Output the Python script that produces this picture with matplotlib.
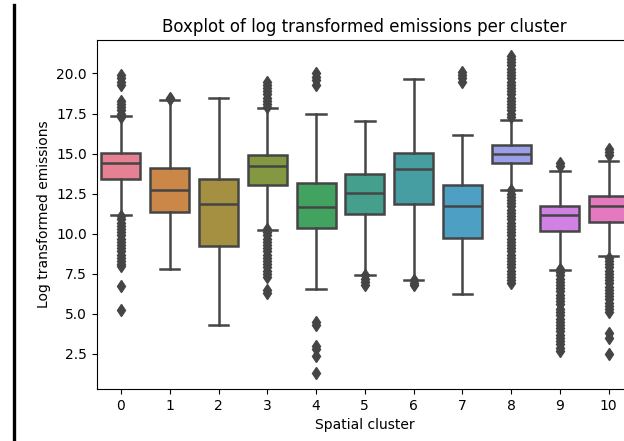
import matplotlib.pyplot as plt
import matplotlib as mpl
from matplotlib.lines import Line2D
import seaborn as sns

# Summary statistics per spatial cluster (log transformed emissions)
clusters = [0, 1, 2, 3, 4, 5, 6, 7, 8, 9, 10]
q1 = [13.44, 11.33, 9.23, 13.06, 10.33, 11.23, 11.83, 9.71, 14.41, 10.14, 10.73]
medians = [14.44, 12.75, 11.83, 14.25, 11.64, 12.54, 14.06, 11.75, 14.96, 11.17, 11.73]
q3 = [15.06, 14.12, 13.44, 14.90, 13.17, 13.71, 15.04, 13.04, 15.52, 11.73, 12.35]
whisker_low = [11.14, 7.81, 4.31, 10.21, 6.52, 7.43, 7.12, 6.21, 12.70, 7.73, 8.60]
whisker_high = [17.33, 18.33, 18.44, 17.85, 17.46, 17.02, 19.64, 16.14, 17.12, 13.92, 14.54]

# Outliers beyond the whiskers
fliers = [
    [19.9, 19.7, 19.5, 19.3, 18.3, 18.1, 17.9, 17.7, 17.5, 17.3,
     11.1, 10.9, 10.7, 10.5, 10.3, 10.1, 9.9, 9.7, 9.5, 9.3, 9.1, 8.9,
     8.7, 8.5, 8.3, 8.1, 8.0, 6.75, 5.25],
    [18.5, 18.4],
    [],
    [19.5, 19.3, 19.1, 18.9, 18.7, 18.5, 18.3, 18.1, 17.9,
     10.3, 10.1, 9.9, 9.7, 9.5, 9.3, 9.1, 8.9, 8.7, 8.5, 8.3, 8.1, 7.9,
     7.7, 7.5, 7.3, 6.5, 6.3],
    [20.0, 19.8, 19.6, 19.3, 4.5, 4.3, 3.0, 2.8, 2.4, 1.3],
    [7.4, 7.2, 7.0, 6.8],
    [7.1, 6.9, 6.8],
    [20.1, 19.9, 19.7, 19.5],
    [21.1, 20.9, 20.7, 20.5, 20.3, 20.1, 19.9, 19.7, 19.5, 19.3, 19.1,
     18.9, 18.7, 18.5, 18.3, 18.1, 17.9, 17.7, 17.5, 17.3,
     12.7, 12.5, 12.3, 12.1, 11.9, 11.7, 11.5, 11.3, 11.1, 10.9, 10.7,
     10.5, 10.3, 10.1, 9.9, 9.7, 9.5, 9.3, 9.1, 8.9, 8.7, 8.5, 8.3, 8.1,
     7.9, 7.7, 7.5, 7.3, 7.1, 6.9],
    [14.4, 14.2,
     7.8, 7.6, 7.4, 7.2, 7.0, 6.8, 6.6, 6.4, 6.2, 6.0, 5.8, 5.6,
     5.3, 5.1, 4.9, 4.7, 4.5, 4.3, 4.1, 3.9, 3.7, 3.5, 3.3, 3.1, 2.9,
     2.7],
    [15.3, 15.1, 14.9,
     8.5, 8.3, 8.1, 7.9, 7.7, 7.5, 7.3, 7.1, 6.9, 6.7, 6.5, 6.3, 6.1,
     5.9, 5.7, 5.5, 5.3, 5.1, 3.8, 3.5, 2.5],
]

mpl.rcParams['font.family'] = 'DejaVu Sans'
mpl.rcParams['font.size'] = 10

fig = plt.figure(figsize=(6.24, 4.41), dpi=100)
# axes run past the right edge of the canvas
ax = fig.add_axes([0.1548, 0.1179, 0.8596, 0.7914])

stats = []
for i in range(len(clusters)):
    stats.append(dict(med=medians[i], q1=q1[i], q3=q3[i],
                      whislo=whisker_low[i], whishi=whisker_high[i],
                      fliers=fliers[i], label=str(clusters[i])))

colors = [sns.desaturate(c, 0.75) for c in sns.husl_palette(len(clusters))]
gray = '#454545'
lw = 1.8

bp = ax.bxp(stats, positions=clusters, widths=0.8, capwidths=0.4,
            patch_artist=True,
            boxprops=dict(edgecolor=gray, linewidth=lw),
            medianprops=dict(color=gray, linewidth=lw),
            whiskerprops=dict(color=gray, linewidth=lw),
            capprops=dict(color=gray, linewidth=lw),
            flierprops=dict(marker='d', markerfacecolor=gray,
                            markeredgecolor=gray, markersize=6))
for patch, c in zip(bp['boxes'], colors):
    patch.set_facecolor(c)

ax.set_xlim(-0.5, 10.5)
ax.set_xlabel('Spatial cluster')
ax.set_ylabel('Log transformed emissions')
ax.set_title('Boxplot of log transformed emissions per cluster', fontsize=12)

# dark rule down the left side of the canvas
fig.add_artist(Line2D([13.8 / 624, 13.8 / 624], [0, 1 - 5 / 441],
                      transform=fig.transFigure, color='black', linewidth=2.4))

plt.savefig('out.png', dpi=100)
